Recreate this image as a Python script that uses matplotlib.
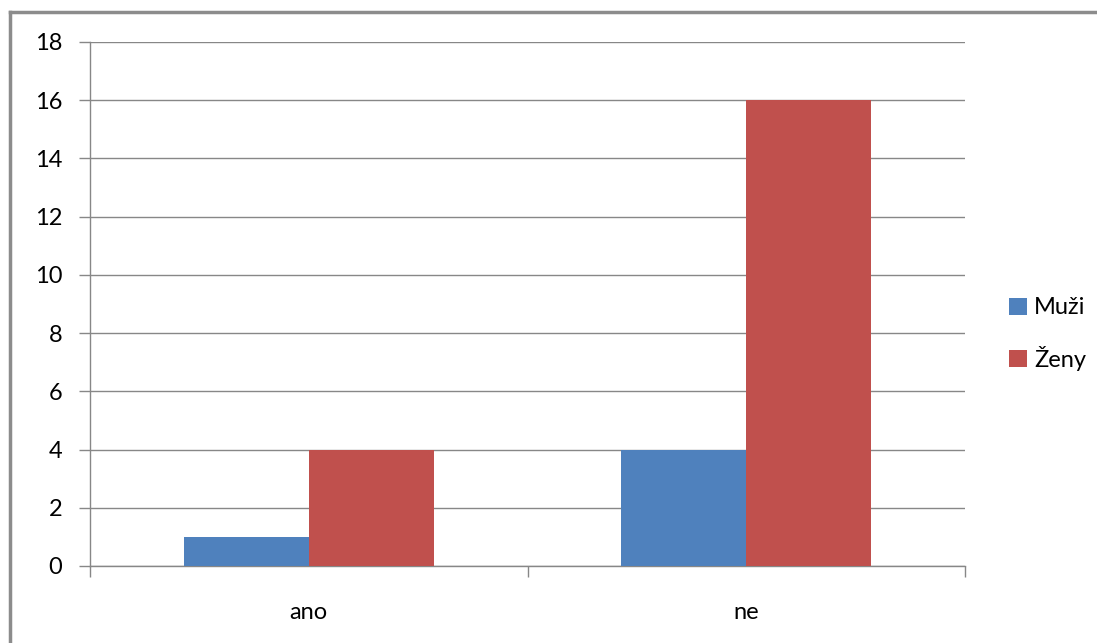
import numpy as np
import matplotlib.pyplot as plt
from matplotlib.lines import Line2D

categories = ["ano", "ne"]
muzi = [1, 4]
zeny = [4, 16]
series_names = ["Muži", "Ženy"]

plt.rcParams['font.family'] = ['Lato', 'DejaVu Sans']

W, H = 1097, 643
fig = plt.figure(figsize=(W / 100, H / 100), dpi=100)

# plot area in pixels: x 90..965, y 42..566
ax = fig.add_axes([90 / W, 1 - 566 / H, (965 - 90) / W, (566 - 42) / H])

x = np.arange(len(categories))
bw = 0.2857
ax.bar(x - bw / 2, muzi, bw, color="#4F81BD", label=series_names[0], zorder=3)
ax.bar(x + bw / 2, zeny, bw, color="#C0504D", label=series_names[1], zorder=3)

ax.set_xlim(-0.5, 1.5)
ax.set_ylim(0, 18)
ax.set_yticks(range(0, 19, 2))
ax.yaxis.grid(True, color="#878787", linewidth=1.0, zorder=0)

for s in ["top", "right"]:
    ax.spines[s].set_visible(False)
for s in ["left", "bottom"]:
    ax.spines[s].set_color("#878787")
    ax.spines[s].set_linewidth(1.0)

ax.set_xticks([-0.5, 0.5, 1.5], minor=False)
ax.set_xticklabels([])
ax.set_xticks(x, minor=True)
ax.set_xticklabels(categories, minor=True)
ax.tick_params(axis="x", which="major", length=8, color="#878787", width=1)
ax.tick_params(axis="x", which="minor", length=0, pad=26, labelsize=17)
ax.tick_params(axis="y", length=8, color="#878787", width=1, pad=12, labelsize=17)

ax.legend(loc="center left", bbox_to_anchor=(988 / W, 1 - 334 / H), bbox_transform=fig.transFigure,
          frameon=False, fontsize=17, handlelength=0.75, handleheight=0.75,
          handletextpad=0.3, labelspacing=1.15)

# chart border
fig.add_artist(Line2D([10 / W, 10 / W], [0, 1 - 12 / H], color="#8c8c8c", linewidth=2.5,
                      transform=fig.transFigure))
fig.add_artist(Line2D([10 / W, 1], [1 - 12 / H, 1 - 12 / H], color="#8c8c8c", linewidth=2.5,
                      transform=fig.transFigure))

fig.savefig("out.png", dpi=100)
